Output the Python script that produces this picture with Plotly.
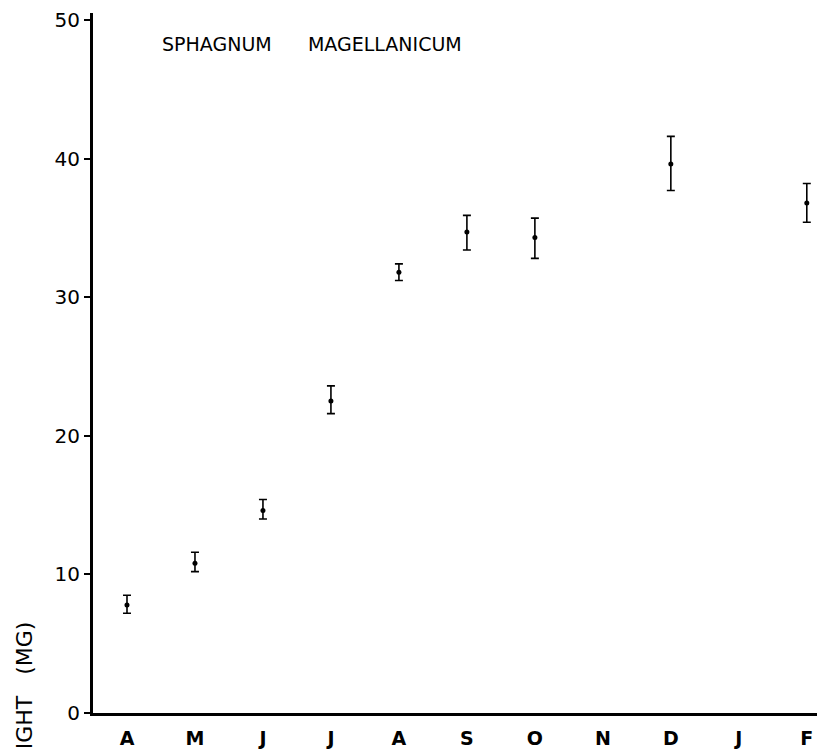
import plotly.graph_objects as go

months = ["A", "M", "J", "J", "A", "S", "O", "N", "D", "J", "F"]
month_idx = [0, 1, 2, 3, 4, 5, 6, 8, 10]
weight = [7.8, 10.8, 14.6, 22.5, 31.8, 34.7, 34.3, 39.6, 36.8]
err_plus = [0.7, 0.8, 0.8, 1.1, 0.6, 1.2, 1.4, 2.0, 1.4]
err_minus = [0.6, 0.6, 0.6, 0.9, 0.6, 1.3, 1.5, 1.9, 1.4]
y_ticks = [0, 10, 20, 30, 40, 50]

L, T, B, W, H = 93, 13, 36, 817, 749
PW, PH = W - L, H - T - B

fig = go.Figure()
fig.add_trace(go.Scatter(
    x=month_idx, y=weight, mode="markers",
    marker=dict(color="black", size=5),
    error_y=dict(type="data", symmetric=False, array=err_plus, arrayminus=err_minus,
                 color="black", thickness=1.6, width=4),
    showlegend=False, cliponaxis=False,
))

font_family = "DejaVu Sans, Liberation Sans, sans-serif"
fig.update_layout(
    width=W, height=H,
    margin=dict(l=L, r=0, t=T, b=B, autoexpand=False),
    plot_bgcolor="white", paper_bgcolor="white",
    font=dict(family=font_family, color="black", size=19),
    xaxis=dict(
        range=[-0.5, 10.15], tickmode="array", tickvals=list(range(len(months))),
        ticktext=months, showgrid=False, zeroline=False, showline=True,
        linecolor="black", linewidth=3, ticks="", ticklabelstandoff=6,
        tickfont=dict(size=19, weight="bold"), automargin=False,
    ),
    yaxis=dict(
        range=[0, 50.5], tickmode="array", tickvals=y_ticks,
        ticktext=[str(v) for v in y_ticks], showgrid=False, zeroline=False,
        showline=True, linecolor="black", linewidth=3, ticks="outside",
        ticklen=6, tickwidth=2, tickcolor="black", tickfont=dict(size=20),
        automargin=False,
    ),
    annotations=[
        dict(text="SPHAGNUM      MAGELLANICUM", xref="paper", yref="paper",
             x=(160 - L) / PW, y=(713 - 44) / PH, xanchor="left", yanchor="middle",
             showarrow=False, font=dict(size=19)),
        dict(text="WEIGHT   (MG)", xref="paper", yref="paper", textangle=-90,
             x=(24 - L) / PW, y=(713 - 704) / PH, xanchor="center", yanchor="middle",
             showarrow=False, font=dict(size=22)),
    ],
)

fig.write_html(
    "out.html",
    config={"displayModeBar": False},
    post_script="document.body.style.margin='0';document.body.style.overflow='hidden';",
)
